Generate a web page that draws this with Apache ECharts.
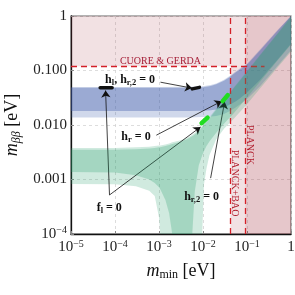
<!DOCTYPE html>
<html><head><meta charset="utf-8">
<script src="https://cdn.jsdelivr.net/npm/echarts@6/dist/echarts.min.js"></script>
<style>html,body{margin:0;padding:0;background:#fff}#c{width:295px;height:295px}</style>
</head><body><div id="c"></div>
<script>
// ---------------- data ----------------
// x grid for normal-ordering band (m_min, eV)
const noX = [1e-5, 1e-4, 3e-4, 6e-4, 8e-4, 1e-3, 1.07e-3, 1.4e-3, 1.7e-3, 2e-3, 3e-3, 4.5e-3, 5.7e-3, 6.5e-3, 8e-3, 9.6e-3, 0.0105, 0.012, 0.014, 0.02, 0.03, 0.05, 0.1, 0.2, 0.5, 1];
const noDarkHi = [0.0035, 0.0035, 0.0036, 0.0037, 0.0038, 0.0039, 0.0039, 0.0041, 0.0043, 0.0045, 0.0049, 0.0056, 0.0062, 0.0067, 0.0078, 0.0092, 0.0101, 0.0114, 0.0132, 0.019, 0.028, 0.047, 0.094, 0.19, 0.47, 0.95];
const noDarkLo = [0.00137, 0.00135, 0.0012, 0.001, 0.00086, 0.00072, 0.00066, 0.00042, 0.00024, 0.0001, 0.0001, 0.0001, 0.0001, 0.0006, 0.0018, 0.0028, 0.0033, 0.0041, 0.005, 0.0072, 0.0105, 0.0165, 0.032, 0.063, 0.155, 0.30];
const noLightHi = [0.0038, 0.0038, 0.0039, 0.004, 0.0041, 0.0042, 0.0042, 0.0044, 0.0046, 0.0048, 0.0052, 0.0059, 0.0066, 0.0071, 0.0082, 0.0097, 0.0106, 0.012, 0.0139, 0.02, 0.0295, 0.049, 0.098, 0.197, 0.49, 1.0];
const noLightLo = [0.00083, 0.00082, 0.00075, 0.00062, 0.0005, 0.0002, 0.0001, 0.0001, 0.0001, 0.0001, 0.0001, 0.0001, 0.0001, 0.0001, 0.0001, 0.0001, 0.0008, 0.0016, 0.0028, 0.0055, 0.0085, 0.013, 0.024, 0.047, 0.115, 0.22];
// inverted-ordering band
const ioX = [1e-5, 1e-4, 1e-3, 0.005, 0.01, 0.015, 0.02, 0.03, 0.042, 0.055, 0.07, 0.1, 0.2, 0.5, 1];
const ioDarkHi = [0.048, 0.048, 0.048, 0.0482, 0.0495, 0.052, 0.056, 0.065, 0.078, 0.092, 0.105, 0.128, 0.235, 0.54, 1.0];
const ioDarkLo = [0.018, 0.018, 0.018, 0.018, 0.0182, 0.0186, 0.0192, 0.021, 0.024, 0.027, 0.031, 0.039, 0.068, 0.16, 0.31];
const ioLightHi = [0.05, 0.05, 0.05, 0.0502, 0.0515, 0.054, 0.058, 0.068, 0.081, 0.096, 0.11, 0.133, 0.245, 0.56, 1.0];
const ioLightLo = [0.0138, 0.0138, 0.0138, 0.0138, 0.014, 0.0143, 0.0147, 0.016, 0.0182, 0.021, 0.024, 0.03, 0.052, 0.122, 0.235];
// experimental limits
const cuoreLimit = 0.12;        // m_bb [eV]
const cuoreLineEnd = 0.25;      // m_min where dashed line ends
const planckBaoLimit = 0.042;   // m_min [eV]
const planckLimit = 0.092;      // m_min [eV]
// special points (short segments)
const blackMarkA = [[4.6e-5, 0.048], [8.6e-5, 0.048]];
const blackMarkB = [[0.0057, 0.046], [0.0083, 0.049]];
const greenMarkA = [[0.0093, 0.0108], [0.0127, 0.0137]];
const greenMarkB = [[0.028, 0.0274], [0.0365, 0.0353]];
// tick labels
const xTickLabels = {'-5': '{n|10}{sup|−5}', '-4': '{n|10}{sup|−4}', '-3': '{n|10}{sup|−3}', '-2': '{n|10}{sup|−2}', '-1': '{n|10}{sup|−1}', '0': '{n|1}'};
const yTickLabels = {'-4': '{n|10}{sup|−4}', '-3': '{n|0.001}', '-2': '{n|0.010}', '-1': '{n|0.100}', '0': '{n|1}'};

// ---------------- chart ----------------
const FONT = '"Liberation Serif", "DejaVu Serif", serif';
const chart = echarts.init(document.getElementById('c'), null, {renderer: 'canvas'});

function band(xs, lo, hi, color, z) {
  return {
    type: 'custom', coordinateSystem: 'cartesian2d', clip: true, z: z, silent: true,
    data: [[xs[0], hi[0]]],
    renderItem: function (params, api) {
      const pts = [];
      for (let i = 0; i < xs.length; i++) pts.push(api.coord([xs[i], hi[i]]));
      for (let i = xs.length - 1; i >= 0; i--) pts.push(api.coord([xs[i], lo[i]]));
      return {type: 'polygon', shape: {points: pts}, style: {fill: color}};
    }
  };
}
function seg(pts, color, width, z) {
  return {type: 'line', data: pts, symbol: 'none', z: z, silent: true,
    lineStyle: {color: color, width: width, cap: 'round'}};
}
const tickRich = {
  n: {fontFamily: FONT, fontSize: 15, color: '#222', lineHeight: 17},
  sup: {fontFamily: FONT, fontSize: 10, color: '#222', lineHeight: 10, verticalAlign: 'top'}
};
const expOf = v => String(Math.round(Math.log10(v)));
const red = '#d42028';
const pinkA = 'rgba(165,40,60,0.14)';

const option = {
  animation: false,
  backgroundColor: '#fff',
  grid: {left: 71, right: 4, top: 16, bottom: 61, containLabel: false, outerBoundsMode: 'none',
    show: true, borderColor: '#666', borderWidth: 1.2},
  xAxis: {
    type: 'log', logBase: 10, min: 1e-5, max: 1,
    axisLine: {show: true, onZero: false, lineStyle: {color: '#111', width: 1.3}},
    axisTick: {show: true, inside: true, length: 3, lineStyle: {color: '#888'}},
    splitLine: {show: true, lineStyle: {type: [3, 3], color: '#d4d4d4', width: 0.8}},
    axisLabel: {margin: 5, formatter: v => xTickLabels[expOf(v)] || '', rich: tickRich},
    name: '{i|m}{sub|min}{n| [eV]}', nameLocation: 'middle', nameGap: 27,
    nameTextStyle: {rich: {
      i: {fontFamily: FONT, fontStyle: 'italic', fontSize: 18, color: '#111', lineHeight: 20},
      sub: {fontFamily: FONT, fontSize: 12, color: '#111', lineHeight: 12, verticalAlign: 'bottom'},
      n: {fontFamily: FONT, fontSize: 18, color: '#111', lineHeight: 20}}}
  },
  yAxis: {
    type: 'log', logBase: 10, min: 1e-4, max: 1,
    axisLine: {show: true, onZero: false, lineStyle: {color: '#111', width: 1.3}},
    axisTick: {show: true, inside: true, length: 3, lineStyle: {color: '#888'}},
    splitLine: {show: true, lineStyle: {type: [3, 3], color: '#d4d4d4', width: 0.8}},
    axisLabel: {margin: 4, formatter: v => yTickLabels[expOf(v)] || '', rich: tickRich},
    name: '{i|m}{sub|ββ}{n| [eV]}', nameLocation: 'middle', nameGap: 43,
    nameTextStyle: {rich: {
      i: {fontFamily: FONT, fontStyle: 'italic', fontSize: 18, color: '#111', lineHeight: 20},
      sub: {fontFamily: FONT, fontStyle: 'italic', fontSize: 12, color: '#111', lineHeight: 12, verticalAlign: 'bottom'},
      n: {fontFamily: FONT, fontSize: 18, color: '#111', lineHeight: 20}}}
  },
  series: [
    {
      type: 'line', data: [], z: 1, silent: true,
      markArea: {silent: true, itemStyle: {color: pinkA}, data: [
        [{coord: [1e-5, cuoreLimit]}, {coord: [planckBaoLimit, 1]}],
        [{coord: [planckBaoLimit, 1e-4]}, {coord: [1, 1]}],
        [{coord: [planckLimit, 1e-4]}, {coord: [1, 1]}]
      ]}
    },
    band(ioX, ioLightLo, ioLightHi, 'rgba(60,90,170,0.24)', 2),
    band(ioX, ioDarkLo, ioDarkHi, 'rgba(60,90,170,0.36)', 3),
    band(noX, noLightLo, noLightHi, 'rgba(40,160,110,0.22)', 4),
    band(noX, noDarkLo, noDarkHi, 'rgba(40,160,110,0.26)', 5),
    {
      type: 'line', data: [], z: 6, silent: true,
      markLine: {silent: true, symbol: 'none', label: {show: false},
        lineStyle: {color: red, type: [6, 4], width: 1.3},
        data: [
          [{coord: [1e-5, cuoreLimit]}, {coord: [cuoreLineEnd, cuoreLimit]}],
          [{coord: [planckBaoLimit, 1e-4]}, {coord: [planckBaoLimit, 1]}],
          [{coord: [planckLimit, 1e-4]}, {coord: [planckLimit, 1]}]
        ]}
    },
    seg(blackMarkA, '#111', 3.5, 7),
    seg(blackMarkB, '#111', 3.5, 7),
    seg(greenMarkA, '#20dd20', 4.5, 7),
    seg(greenMarkB, '#20dd20', 4.5, 7),
    {
      type: 'line', data: [], z: 8, silent: true,
      markLine: {silent: true, symbol: ['none', 'arrow'], symbolSize: 7, label: {show: false},
        lineStyle: {color: '#111', type: 'solid', width: 0.8},
        data: [
          [{coord: [1.08e-3, 0.061]}, {coord: [0.0056, 0.0475]}],
          [{coord: [7.5e-5, 5.2e-4]}, {coord: [6.1e-5, 0.043]}],
          [{coord: [7.5e-5, 5.2e-4]}, {coord: [0.0088, 0.0092]}],
          [{coord: [8.7e-4, 0.0065]}, {coord: [0.0266, 0.0274]}],
          [{coord: [0.0149, 0.00106]}, {coord: [0.031, 0.0266]}]
        ]}
    }
  ]
};
chart.setOption(option);

// annotation texts anchored in data coordinates
const annRich = {
  b: {fontFamily: FONT, fontWeight: 'bold', fontSize: 12, fill: '#111', lineHeight: 14},
  s: {fontFamily: FONT, fontWeight: 'bold', fontSize: 8.5, fill: '#111', lineHeight: 8, verticalAlign: 'bottom'}
};
const annotations = [
  {at: [2.2e-4, 0.066], text: '{b|h}{s|l}{b|, h}{s|r,2}{b| = 0}', rich: annRich},
  {at: [3.0e-4, 0.006], text: '{b|h}{s|r}{b| = 0}', rich: annRich},
  {at: [7.4e-5, 3.0e-4], text: '{b|f}{s|l}{b| = 0}', rich: annRich},
  {at: [0.0093, 4.8e-4], text: '{b|h}{s|r,2}{b| = 0}', rich: annRich},
  {at: [1.08e-3, 0.148], text: 'CUORE & GERDA', font: '10px ' + FONT, fill: '#a51d36'},
  {at: [0.0526, 8.6e-4], text: 'PLANCK+BAO', font: '10px ' + FONT, fill: '#b01c2c', rot: -Math.PI / 2},
  {at: [0.116, 0.0043], text: 'PLANCK', font: '10px ' + FONT, fill: '#b01c2c', rot: -Math.PI / 2}
];
const graphics = annotations.map(a => {
  const p = chart.convertToPixel({xAxisIndex: 0, yAxisIndex: 0}, a.at);
  const style = {text: a.text, align: 'center', verticalAlign: 'middle'};
  if (a.rich) style.rich = a.rich;
  if (a.font) style.font = a.font;
  if (a.fill) style.fill = a.fill;
  return {type: 'text', x: p[0], y: p[1], rotation: a.rot || 0, z: 100, silent: true, style: style};
});
chart.setOption({graphic: graphics});
</script></body></html>
